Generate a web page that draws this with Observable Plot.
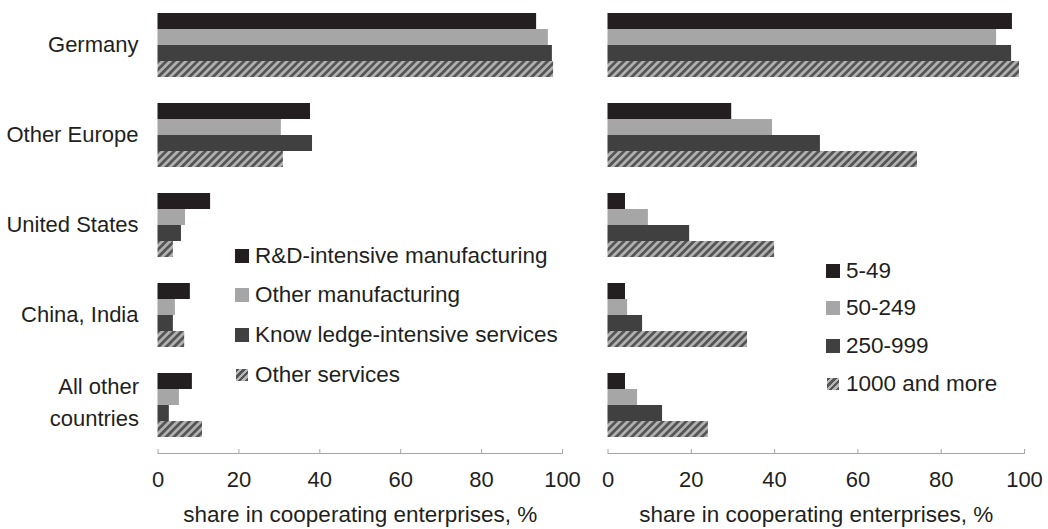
<!DOCTYPE html>
<html><head><meta charset="utf-8">
<script src="https://cdn.jsdelivr.net/npm/d3@7"></script>
<script src="https://cdn.jsdelivr.net/npm/@observablehq/plot@0.6"></script>
<style>
html,body{margin:0;padding:0;background:#fff;}
#chart{position:relative;width:1048px;height:529px;font-family:"Liberation Sans",Arial,sans-serif;color:#231f20;overflow:hidden;}
.panel{position:absolute;top:0;}
.legend{position:absolute;top:0;font-size:22.5px;}
.item{position:absolute;left:0;display:flex;align-items:center;white-space:nowrap;transform:translateY(-50%);}
.sw{width:14px;height:14px;margin-right:6px;flex:none;}
</style></head><body><div id="chart"></div>
<script>
// ---- data ----
const countries = ["Germany", "Other Europe", "United States", "China, India", "All other countries"];
const countryLabels = ["Germany", "Other Europe", "United States", "China, India", "All other\ncountries"];
const sectors = ["R&D-intensive manufacturing", "Other manufacturing", "Know ledge-intensive services", "Other services"];
const sizes = ["5-49", "50-249", "250-999", "1000 and more"];
// share values per series, in country order
const rdManufacturing   = [93.6, 37.7, 13.0, 8.0, 8.5];
const otherManufacturing = [96.5, 30.5, 6.8, 4.3, 5.3];
const knowledgeServices = [97.5, 38.2, 5.8, 3.8, 2.8];
const otherServices     = [97.8, 31.0, 3.8, 6.6, 11.0];
const size5to49    = [97.1, 29.7, 4.2, 4.2, 4.2];
const size50to249  = [93.3, 39.5, 9.7, 4.7, 7.1];
const size250to999 = [96.9, 51.0, 19.6, 8.3, 13.1];
const size1000plus = [98.8, 74.3, 40.0, 33.5, 24.1];
const xTicks = [0, 20, 40, 60, 80, 100];
const xTitle = "share in cooperating enterprises, %";

// ---- styling ----
const FONT = '"Liberation Sans", Arial, sans-serif';
const TEXT = "#231f20";
const AXIS = "#a6a6a6";
const baseColors = ["#231f20", "#a6a6a6", "#404040", "HATCH"];

function hatchDefs(id) {
  const ns = "http://www.w3.org/2000/svg";
  const defs = document.createElementNS(ns, "defs");
  defs.innerHTML = `<pattern id="${id}" patternUnits="userSpaceOnUse" width="5.5" height="5.5" patternTransform="rotate(45)">
    <rect width="5.5" height="5.5" fill="#b0b0b0"></rect>
    <rect width="2.75" height="5.5" fill="#555555"></rect></pattern>`;
  return defs;
}

function panel({series, values, width, marginLeft, marginRight, showCountries, patternId}) {
  const data = [];
  countries.forEach((c, i) => series.forEach((s, j) => data.push({country: c, series: s, value: values[j][i]})));
  const range = baseColors.map(c => c === "HATCH" ? `url(#${patternId})` : c);
  const marks = [
    Plot.barX(data, {fy: "country", y: "series", x: "value", fill: "series"}),
    Plot.frame({anchor: "bottom", facetAnchor: "bottom", dy: 16, stroke: AXIS}),
    Plot.axisX({ticks: xTicks, tickSize: 4, dy: 12, tickPadding: 18, stroke: AXIS, fill: TEXT, label: null, fontSize: 22, tickFormat: d => String(d)}),
    Plot.text([xTitle], {text: d => d, frameAnchor: "bottom", facetAnchor: "bottom", dy: 84, fontSize: 22.5, fill: TEXT})
  ];
  if (showCountries) {
    const fmt = d => countryLabels[countries.indexOf(d)];
    const single = countries.filter((d, i) => !countryLabels[i].includes("\n"));
    const multi = countries.filter((d, i) => countryLabels[i].includes("\n"));
    marks.push(Plot.axisFy({ticks: single, anchor: "left", tickSize: 0, tickPadding: 19.5, label: null, fill: TEXT, fontSize: 22, tickFormat: fmt}));
    marks.push(Plot.axisFy({ticks: multi, anchor: "left", tickSize: 0, tickPadding: 19, label: null, fill: TEXT, fontSize: 22, lineHeight: 1.42, dy: -5, tickFormat: fmt}));
  }
  const svg = Plot.plot({
    width, height: 529, marginTop: 12, marginBottom: 92, marginLeft, marginRight,
    style: {fontFamily: FONT, fontSize: "22px", color: TEXT, background: "transparent"},
    x: {domain: [0, 100], label: null},
    y: {domain: series, padding: 0, axis: null},
    fy: {domain: countries, paddingInner: 0.278, paddingOuter: 0, label: null, axis: showCountries ? undefined : null},
    color: {domain: series, range},
    marks
  });
  svg.prepend(hatchDefs(patternId));
  return svg;
}

function legend(series, left, centers) {
  const div = document.createElement("div");
  div.className = "legend";
  div.style.left = left + "px";
  series.forEach((s, i) => {
    const item = document.createElement("div");
    item.className = "item";
    item.style.top = centers[i] + "px";
    const sw = document.createElement("span");
    sw.className = "sw";
    if (baseColors[i] === "HATCH") {
      sw.style.background = "repeating-linear-gradient(135deg, #555 0 2.4px, #b8b8b8 2.4px 4.8px)";
      sw.style.width = "12px"; sw.style.height = "12px"; sw.style.marginLeft = "1px"; sw.style.marginRight = "7px";
    } else sw.style.background = baseColors[i];
    const tx = document.createElement("span");
    tx.textContent = s;
    item.append(sw, tx);
    div.append(item);
  });
  return div;
}

const chart = document.getElementById("chart");
const left = document.createElement("div"); left.className = "panel"; left.style.left = "0px";
left.append(panel({series: sectors, values: [rdManufacturing, otherManufacturing, knowledgeServices, otherServices],
  width: 590, marginLeft: 157.5, marginRight: 28, showCountries: true, patternId: "hatchA"}));
const right = document.createElement("div"); right.className = "panel"; right.style.left = "590px";
right.append(panel({series: sizes, values: [size5to49, size50to249, size250to999, size1000plus],
  width: 458, marginLeft: 17.5, marginRight: 24, showCountries: false, patternId: "hatchB"}));
chart.append(left, right);
chart.append(legend(sectors, 235, [256, 295, 335, 375]));
chart.append(legend(sizes, 826, [271, 308, 346, 384]));
</script></body></html>
